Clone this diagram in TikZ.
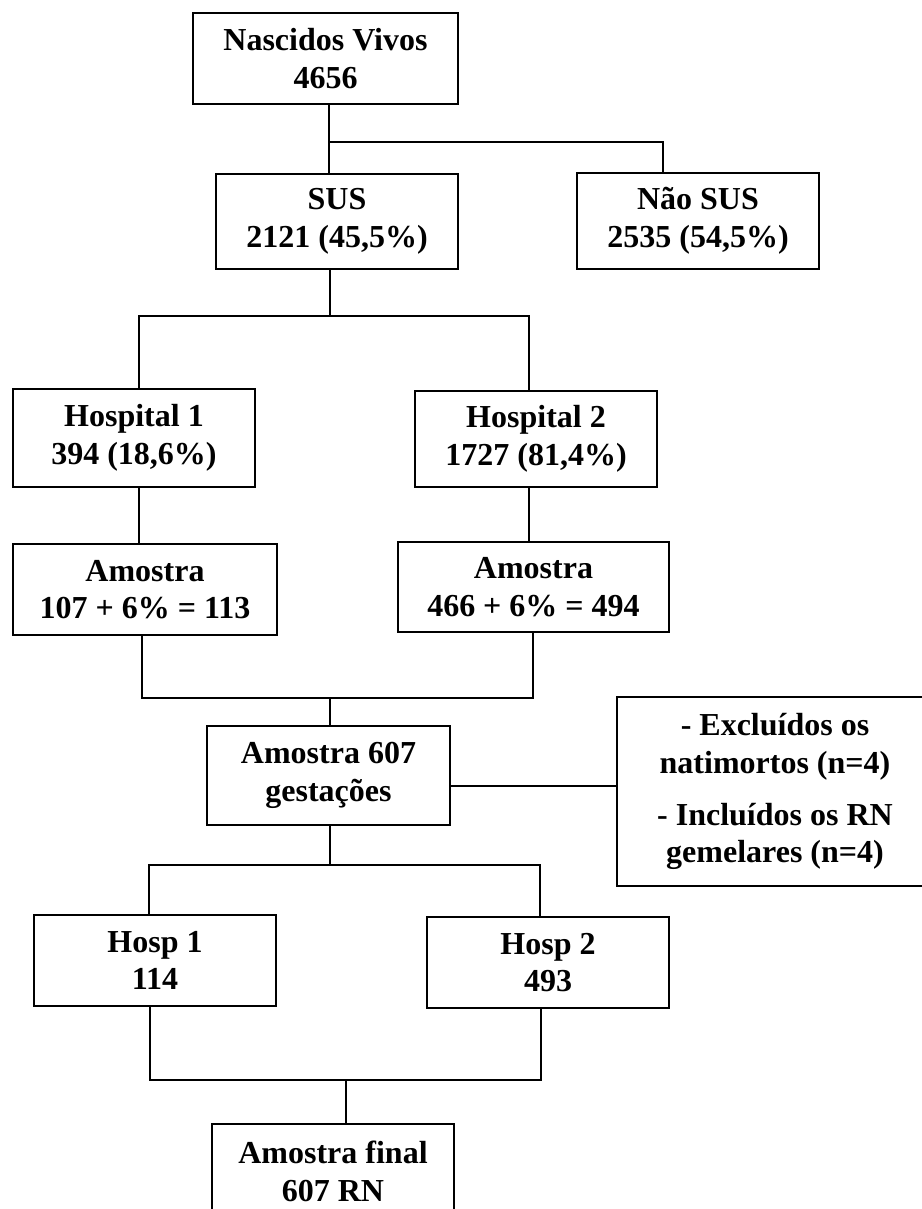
\documentclass[tikz,border=0pt]{standalone}
\usepackage{fontspec}
\setmainfont{Liberation Serif}
\usetikzlibrary{calc}
\definecolor{flink}{HTML}{000000}
\tikzset{
  fl text/.style={font=\bfseries\fontsize{32}{37.5}\selectfont, text=flink},
  fl box/.style={draw=flink, line width=1.5pt, fill=white, inner sep=0pt,
    minimum width=242pt, minimum height=95pt, align=center},
  fl link/.style={draw=flink, line width=1.3pt, line cap=rect}
}

\begin{document}
\begin{tikzpicture}[x=1pt, y=-1pt, fl text]
  \useasboundingbox[fill=white] (0,0) rectangle (921,1209);
  % boxes
  \node[fl box, minimum width=265pt, minimum height=91pt] (nv) at (325.5,58.5) {Nascidos Vivos\\4656};
  \node[fl box] (sus) at (337,221.5) {SUS\\2121 (45,5\%)};
  \node[fl box, minimum height=96pt] (nsus) at (698,221) {Não SUS\\2535 (54,5\%)};
  \node[fl box, minimum height=98pt] (h1) at (134,438) {Hospital 1\\394 (18,6\%)};
  \node[fl box, minimum height=96pt] (h2) at (536,439) {Hospital 2\\1727 (81,4\%)};
  \node[fl box, minimum width=264pt, minimum height=91pt] (am1) at (145,589.5) {Amostra\\107 + 6\% = 113};
  \node[fl box, minimum width=271pt, minimum height=90pt] (am2) at (533.5,587) {Amostra\\466 + 6\% = 494};
  \node[fl box, minimum width=243pt, minimum height=99pt] (a607) at (328.5,775.5) {Amostra 607\\gestações};
  \node[fl box, minimum width=316pt, minimum height=189pt] (excl) at (775,791.5)
    {- Excluídos os\\natimortos (n=4)\\[14.5pt]- Incluídos os RN\\gemelares (n=4)};
  \node[fl box, minimum height=91pt] (hp1) at (155,960.5) {Hosp 1\\114};
  \node[fl box, minimum height=91pt] (hp2) at (548,962.5) {Hosp 2\\493};
  \node[fl box] (fin) at (333,1171.5) {Amostra final\\607 RN};
  % junctions
  \coordinate (t1) at (329,142);
  \coordinate (t1r) at (663,142);
  \coordinate (t2) at (330,316);
  \coordinate (t2l) at (139,316);
  \coordinate (t2r) at (529,316);
  \coordinate (t3) at (330,698);
  \coordinate (t3l) at (142,698);
  \coordinate (t3r) at (533,698);
  \coordinate (t4) at (617,786);
  \coordinate (t5) at (330,865);
  \coordinate (t5l) at (149,865);
  \coordinate (t5r) at (540,865);
  \coordinate (t6) at (346,1080);
  \coordinate (t6l) at (150,1080);
  \coordinate (t6r) at (541,1080);
  % links
  \draw[fl link] (nv.south -| t1) -- (sus.north -| t1);
  \draw[fl link] (t1) -- (t1r) -- (nsus.north -| t1r);
  \draw[fl link] (sus.south -| t2) -- (t2);
  \draw[fl link] (h1.north -| t2l) -- (t2l) -- (t2r) -- (h2.north -| t2r);
  \draw[fl link] (h1.south -| t2l) -- (am1.north -| t2l);
  \draw[fl link] (h2.south -| t2r) -- (am2.north -| t2r);
  \draw[fl link] (am1.south -| t3l) -- (t3l) -- (t3r) -- (am2.south -| t3r);
  \draw[fl link] (t3) -- (a607.north -| t3);
  \draw[fl link] (a607.east |- t4) -- (excl.west |- t4);
  \draw[fl link] (a607.south -| t5) -- (t5);
  \draw[fl link] (hp1.north -| t5l) -- (t5l) -- (t5r) -- (hp2.north -| t5r);
  \draw[fl link] (hp1.south -| t6l) -- (t6l) -- (t6r) -- (hp2.south -| t6r);
  \draw[fl link] (t6) -- (fin.north -| t6);
\end{tikzpicture}
\end{document}
